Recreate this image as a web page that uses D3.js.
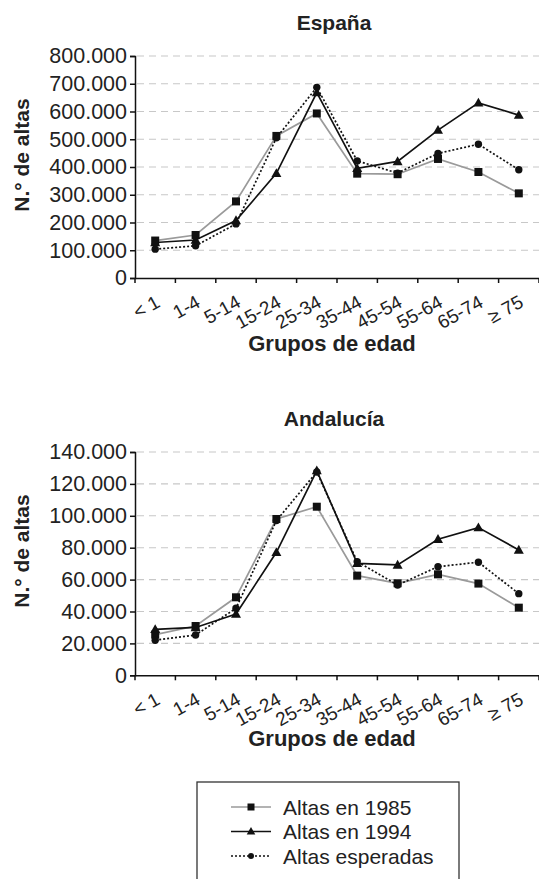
<!DOCTYPE html>
<html><head><meta charset="utf-8">
<script src="https://cdn.jsdelivr.net/npm/d3@7"></script>
<style>
html,body{margin:0;padding:0;background:#fff;}
svg{display:block;font-family:"Liberation Sans",Arial,Helvetica,sans-serif;}
</style></head>
<body>
<svg id="c" width="539" height="879"></svg>
<script>
const categories = ["< 1","1-4","5-14","15-24","25-34","35-44","45-54","55-64","65-74","\u2265 75"];
const seriesNames = ["Altas en 1985","Altas en 1994","Altas esperadas"];

const espana1985 = [135000,155000,276000,512000,593000,376000,374000,429000,382000,305000];
const espana1994 = [128000,137000,207000,377000,668000,395000,420000,533000,631000,587000];
const espanaEsp  = [104000,116000,195000,505000,687000,422000,378000,449000,482000,390000];

const andal1985 = [25500,30900,48900,98000,105700,62500,57700,63300,57500,42400];
const andal1994 = [28800,30000,38400,77100,128300,70200,69200,85300,92600,78600];
const andalEsp  = [22000,25300,42000,97000,127500,71300,56600,68100,70900,51200];

const espanaTicks = [0,100000,200000,300000,400000,500000,600000,700000,800000];
const andalTicks  = [0,20000,40000,60000,80000,100000,120000,140000];

const loc = d3.formatLocale({decimal:",",thousands:".",grouping:[3],currency:["","€"]});
const fmt = loc.format(",d");

const svg = d3.select("#c");
const styles = [
  {stroke:"#9a9a9a", dash:null, marker:"square"},
  {stroke:"#111", dash:null, marker:"triangle"},
  {stroke:"#111", dash:"2,2", marker:"circle"}
];

function drawMarker(g, type, x, y){
  if(type==="square"){
    g.append("rect").attr("x",x-4).attr("y",y-4).attr("width",8).attr("height",8).attr("fill","#111");
  } else if(type==="triangle"){
    g.append("path").attr("d",`M${x},${y-5.2}L${x+5},${y+3.7}L${x-5},${y+3.7}Z`).attr("fill","#111");
  } else {
    g.append("circle").attr("cx",x).attr("cy",y).attr("r",3.7).attr("fill","#111");
  }
}

function panel(opt){
  const x = d3.scaleBand().domain(categories).range([135,539]).padding(0);
  const y = d3.scaleLinear().domain([0,opt.max]).range([opt.y1,opt.y0]);
  const g = svg.append("g");

  // grid
  g.append("g").selectAll("line").data(opt.ticks.filter(t=>t>0)).join("line")
    .attr("x1",137).attr("x2",539).attr("y1",d=>y(d)).attr("y2",d=>y(d))
    .attr("stroke","#c8c8c8").attr("stroke-width",1.1).attr("stroke-dasharray","7,5");

  // y axis
  const ya = g.append("g").attr("transform","translate(135,0)")
    .call(d3.axisLeft(y).tickValues(opt.ticks).tickFormat(fmt).tickSize(5).tickPadding(3));
  ya.select(".domain").attr("stroke","#111").attr("stroke-width",1.5);
  ya.selectAll(".tick line").attr("stroke","#111").attr("stroke-width",1.5);
  ya.selectAll(".tick text").attr("font-size",21.5).attr("fill","#222")
    .attr("font-family","'Liberation Sans',Arial,sans-serif");

  // x axis
  const xa = g.append("g").attr("transform",`translate(0,${opt.y1})`)
    .call(d3.axisBottom(x).tickSize(0).tickFormat(""));
  xa.select(".domain").attr("stroke","#111").attr("stroke-width",1.5);
  const bounds = categories.map(c=>x(c)).concat([x(categories[categories.length-1])+x.bandwidth()]);
  g.append("g").selectAll("line").data(bounds).join("line")
    .attr("x1",d=>d).attr("x2",d=>d).attr("y1",opt.y1).attr("y2",opt.y1+5)
    .attr("stroke","#111").attr("stroke-width",1.5);

  // x tick labels
  g.append("g").selectAll("text").data(categories).join("text")
    .attr("transform",d=>`translate(${x(d)+x.bandwidth()/2+6},${opt.y1+28}) rotate(-29)`)
    .attr("text-anchor","end").attr("font-size",19).attr("fill","#222")
    .text(d=>d);

  // series
  opt.series.forEach((vals,i)=>{
    const st = styles[i];
    const line = d3.line().x((d,j)=>x(categories[j])+x.bandwidth()/2).y(d=>y(d));
    g.append("path").datum(vals).attr("d",line).attr("fill","none")
      .attr("stroke",st.stroke).attr("stroke-width",1.7)
      .attr("stroke-dasharray",st.dash);
  });
  opt.series.forEach((vals,i)=>{
    const st = styles[i];
    const mg = g.append("g");
    vals.forEach((v,j)=>drawMarker(mg, st.marker, x(categories[j])+x.bandwidth()/2, y(v)));
  });

  // title
  g.append("text").attr("x",334).attr("y",opt.titleY).attr("text-anchor","middle")
    .attr("font-size",21).attr("font-weight","bold").attr("fill","#222").text(opt.title);
  // x label
  g.append("text").attr("x",332).attr("y",opt.xlabY).attr("text-anchor","middle")
    .attr("font-size",22).attr("font-weight","bold").attr("fill","#222").text("Grupos de edad");
  // y label
  g.append("text").attr("transform",`translate(29,${opt.ylabY}) rotate(-90)`)
    .attr("text-anchor","middle").attr("font-size",21).attr("font-weight","bold")
    .attr("fill","#222").text("N.\u00b0 de altas");
}

panel({title:"España", max:800000, ticks:espanaTicks, y0:56, y1:278, titleY:30, xlabY:351, ylabY:155,
  series:[espana1985, espana1994, espanaEsp]});
panel({title:"Andalucía", max:140000, ticks:andalTicks, y0:452, y1:675.3, titleY:426, xlabY:746, ylabY:551,
  series:[andal1985, andal1994, andalEsp]});

// legend
const lg = svg.append("g");
lg.append("rect").attr("x",197).attr("y",782).attr("width",262).attr("height",110)
  .attr("fill","#fff").attr("stroke","#333").attr("stroke-width",1.3);
const rowY = [807,831.5,856];
seriesNames.forEach((n,i)=>{
  const st = styles[i];
  lg.append("line").attr("x1",231).attr("x2",271).attr("y1",rowY[i]).attr("y2",rowY[i])
    .attr("stroke",st.stroke).attr("stroke-width",1.4).attr("stroke-dasharray",st.dash);
  const mg = lg.append("g");
  if(st.marker==="square"){
    mg.append("rect").attr("x",247.5).attr("y",rowY[i]-3.5).attr("width",7).attr("height",7).attr("fill","#111");
  } else if(st.marker==="triangle"){
    mg.append("path").attr("d",`M251,${rowY[i]-4.5}L255.3,${rowY[i]+3}L246.7,${rowY[i]+3}Z`).attr("fill","#111");
  } else {
    mg.append("circle").attr("cx",251).attr("cy",rowY[i]).attr("r",3).attr("fill","#111");
  }
  lg.append("text").attr("x",283).attr("y",rowY[i]+7.5).attr("font-size",21).attr("fill","#222").text(n);
});
</script>
</body></html>
